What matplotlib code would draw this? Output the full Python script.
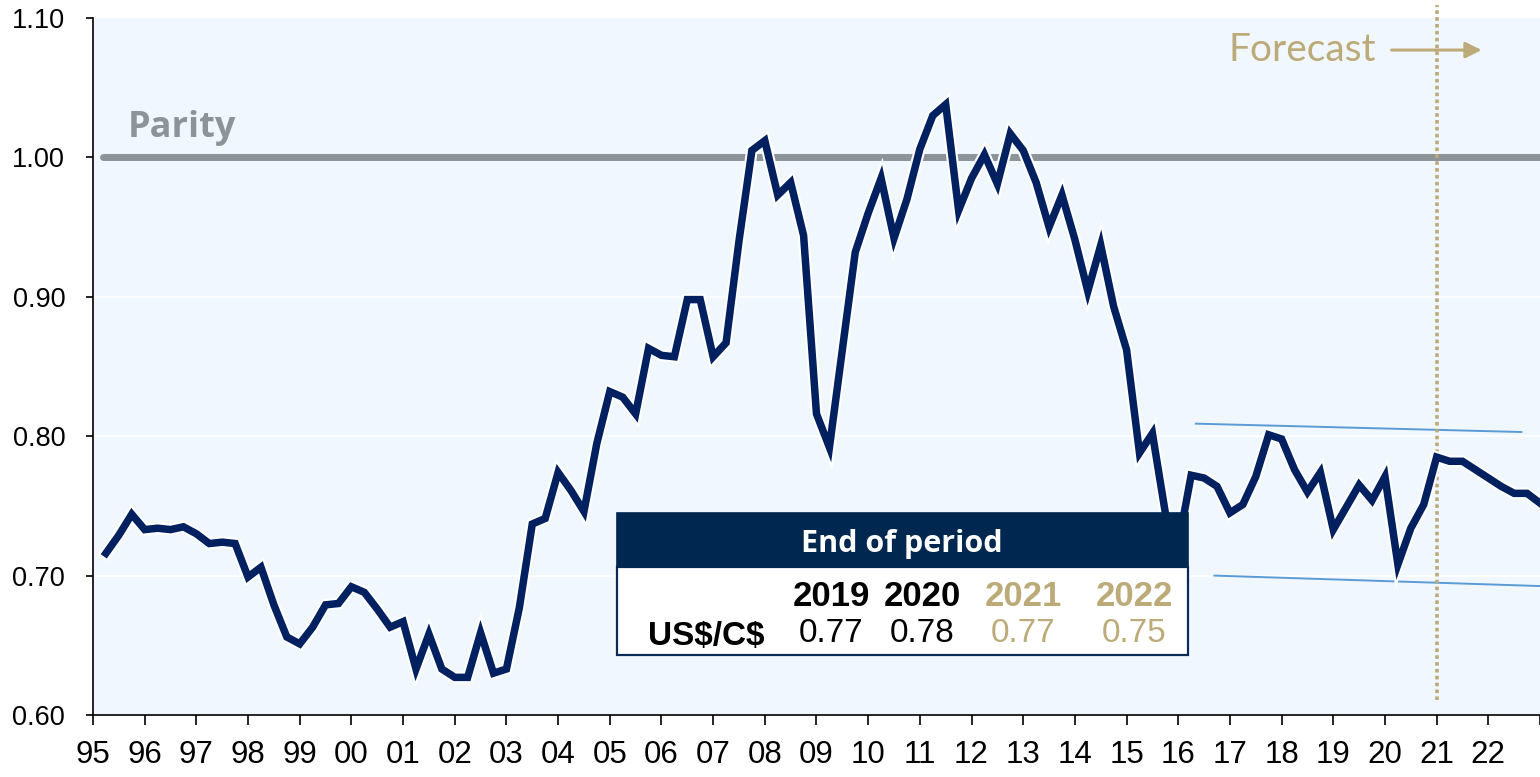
import numpy as np
import matplotlib
matplotlib.use('Agg')
import matplotlib.pyplot as plt
import matplotlib.patheffects as pe
from matplotlib.patches import Rectangle

# quarterly US$/C$, 1995Q1 .. 2022Q4 (forecast from 2021)
first_year = 1995
cad_usd = [0.716, 0.729, 0.744, 0.733, 0.734, 0.733, 0.735, 0.730,
           0.723, 0.724, 0.723, 0.699, 0.706, 0.679, 0.656, 0.651,
           0.663, 0.679, 0.680, 0.692, 0.688, 0.676, 0.663, 0.667,
           0.633, 0.658, 0.633, 0.627, 0.627, 0.659, 0.630, 0.633,
           0.677, 0.737, 0.741, 0.774, 0.761, 0.746, 0.795, 0.832,
           0.828, 0.816, 0.863, 0.858, 0.857, 0.898, 0.898, 0.857,
           0.867, 0.940, 1.005, 1.012, 0.973, 0.982, 0.944, 0.816,
           0.792, 0.862, 0.932, 0.960, 0.985, 0.942, 0.970, 1.006,
           1.030, 1.038, 0.962, 0.985, 1.002, 0.981, 1.017, 1.005,
           0.982, 0.950, 0.973, 0.941, 0.904, 0.937, 0.893, 0.862,
           0.788, 0.802, 0.745, 0.722, 0.772, 0.770, 0.764, 0.745,
           0.751, 0.771, 0.801, 0.798, 0.776, 0.760, 0.774, 0.733,
           0.749, 0.765, 0.754, 0.771, 0.708, 0.734, 0.751, 0.785,
           0.782, 0.782, 0.776, 0.770, 0.764, 0.759, 0.759, 0.752]
parity = 1.0
forecast_start = 2021
# trading channel drawn on the chart
chan_upper_x = [2016.34, 2022.64]
chan_upper_y = [0.809, 0.803]
chan_lower_x = [2016.70, 2023.0]
chan_lower_y = [0.700, 0.6925]

tbl_years = ['2019', '2020', '2021', '2022']
tbl_values = ['0.77', '0.78', '0.77', '0.75']
tbl_is_forecast = [False, False, True, True]

navy = '#002060'
tan = '#bcab78'
grey = '#8c9399'
W, H = 1540, 777

fig = plt.figure(figsize=(W / 100, H / 100), dpi=100)
ax = fig.add_axes([93 / W, 1 - 715 / H, 1 - 93 / W, (715 - 18) / H])
ax.set_facecolor('#f0f7fe')

x = first_year + 0.25 * (np.arange(len(cad_usd)) + 1)

ax.set_xlim(1995, 2023)
ax.set_ylim(0.6, 1.1)
ax.set_yticks(np.arange(0.6, 1.101, 0.1))
ax.set_yticklabels(['%.2f' % v for v in np.arange(0.6, 1.101, 0.1)])
years = np.arange(1995, 2024)
ax.set_xticks(years)
ax.set_xticklabels(['%02d' % (y % 100) if y < 2023 else '' for y in years])
for y in [0.7, 0.8, 0.9]:
    ax.axhline(y, color='white', lw=1.2, zorder=1)

for s in ['top', 'right']:
    ax.spines[s].set_visible(False)
for s in ['left', 'bottom']:
    ax.spines[s].set_linewidth(1.2)
ax.tick_params(axis='y', length=5, width=1.2, pad=15, labelsize=19.5)
ax.tick_params(axis='x', length=7, width=1.2, pad=11, labelsize=22.5)
for lbl in ax.get_xticklabels() + ax.get_yticklabels():
    lbl.set_family(['Liberation Sans', 'DejaVu Sans'])

# parity
ax.plot([1995.19, 2023], [parity, parity], color=grey, lw=5, solid_capstyle='round', zorder=2)
ax.text(1995.68, 1.021, 'Parity', color=grey, fontsize=26, fontweight='bold',
        family=['Open Sans', 'DejaVu Sans'], va='center', ha='left')

# channel
ax.plot(chan_upper_x, chan_upper_y, color='#5b9bd5', lw=1.4, zorder=2)
ax.plot(chan_lower_x, chan_lower_y, color='#5b9bd5', lw=1.4, zorder=2)

# forecast marker
ax.plot([forecast_start, forecast_start], [0.611, 1.109], color=tan, lw=2.6,
        linestyle=(0, (1.0, 0.9)), zorder=3, clip_on=False)
ax.text(2016.97, 1.077, 'Forecast', color=tan, fontsize=28,
        family=['Lato', 'DejaVu Sans'], va='center', ha='left')
ax.annotate('', xy=(2021.87, 1.077), xytext=(2020.13, 1.077),
            arrowprops=dict(arrowstyle='-|>', color=tan, lw=2.2, mutation_scale=24,
                            shrinkA=0, shrinkB=0))

# main series
ax.plot(x, cad_usd, color=navy, lw=5.4, zorder=4, solid_joinstyle='miter',
        path_effects=[pe.Stroke(linewidth=8.4, foreground='white'), pe.Normal()])


# table box (pixel coordinates from top-left)
def fx(px):
    return px / W


def fy(py):
    return 1 - py / H


fig.add_artist(Rectangle((fx(617), fy(655)), fx(1188) - fx(617), fy(567) - fy(655),
                         transform=fig.transFigure, facecolor='white', edgecolor='#0d2a55',
                         lw=1.6, zorder=10))
fig.add_artist(Rectangle((fx(617), fy(567)), fx(1188) - fx(617), fy(513) - fy(567),
                         transform=fig.transFigure, facecolor='#00274f', edgecolor='#00274f',
                         lw=1.2, zorder=11))
fig.text(fx(902), fy(544), 'End of period', color='white', fontsize=22, fontweight='bold',
         family=['Open Sans', 'DejaVu Sans'], ha='center', va='center', zorder=12)
col_x = [831, 922, 1023, 1134]
for cx, yr, val, fc in zip(col_x, tbl_years, tbl_values, tbl_is_forecast):
    c = tan if fc else 'black'
    fig.text(fx(cx), fy(597), yr, color=c, fontsize=25, fontweight='bold',
             family=['Liberation Sans', 'DejaVu Sans'], ha='center', va='center', zorder=12)
    fig.text(fx(cx), fy(634), val, color=c, fontsize=24,
             family=['Liberation Sans', 'DejaVu Sans'], ha='center', va='center', zorder=12)
fig.text(fx(765), fy(636), 'US\\$/C\\$', color='black', fontsize=24, fontweight='bold',
         family=['Liberation Sans', 'DejaVu Sans'], ha='right', va='center', zorder=12)

plt.savefig('out.png', dpi=100)
